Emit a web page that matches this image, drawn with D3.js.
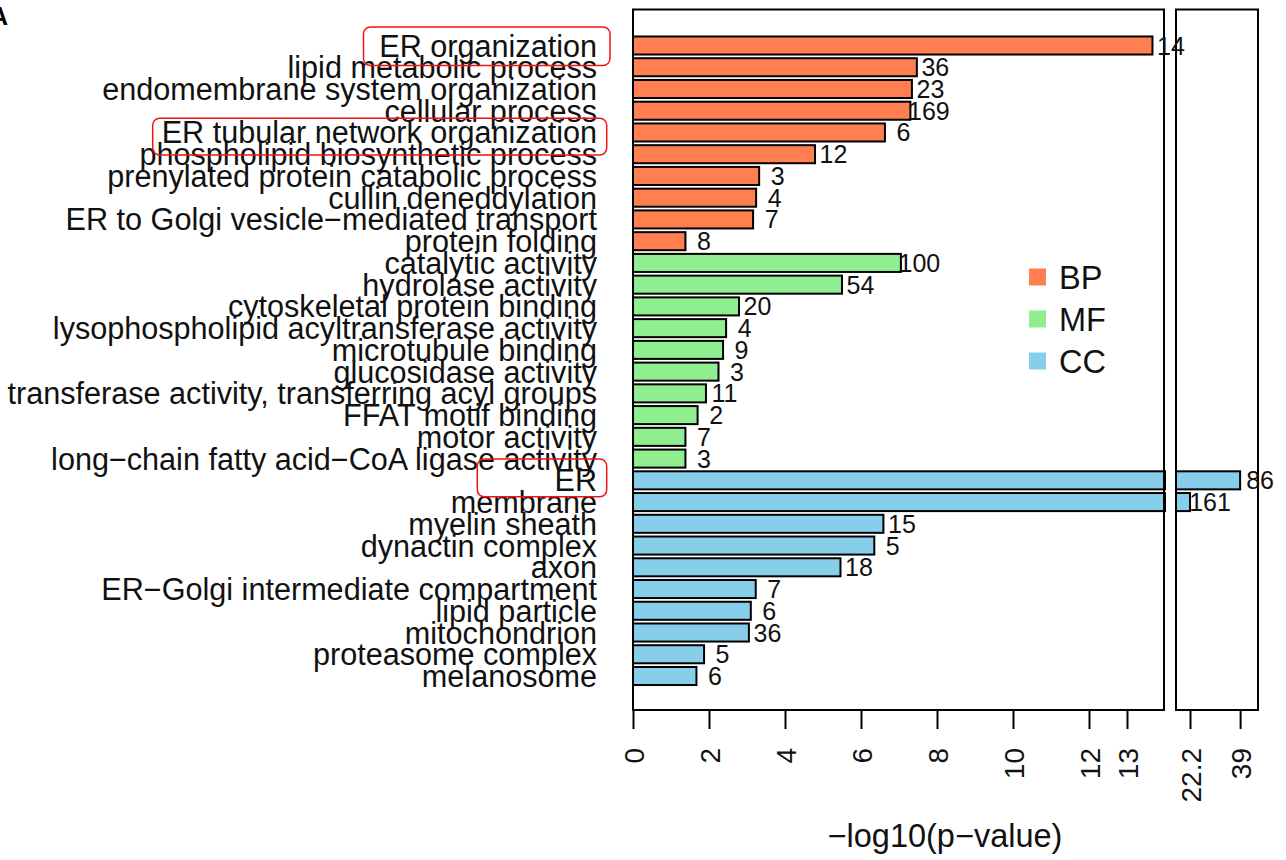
<!DOCTYPE html>
<html>
<head>
<meta charset="utf-8">
<script src="https://cdn.jsdelivr.net/npm/d3@7"></script>
<style>
  html, body { margin: 0; padding: 0; background: #ffffff; }
  svg { display: block; font-family: "Liberation Sans", Arial, sans-serif; }
</style>
</head>
<body>
<svg id="chart" width="1286" height="860"></svg>
<script>
// ---------------- data ----------------
const terms = [
  "ER organization",
  "lipid metabolic process",
  "endomembrane system organization",
  "cellular process",
  "ER tubular network organization",
  "phospholipid biosynthetic process",
  "prenylated protein catabolic process",
  "cullin deneddylation",
  "ER to Golgi vesicle\u2212mediated transport",
  "protein folding",
  "catalytic activity",
  "hydrolase activity",
  "cytoskeletal protein binding",
  "lysophospholipid acyltransferase activity",
  "microtubule binding",
  "glucosidase activity",
  "transferase activity, transferring acyl groups",
  "FFAT motif binding",
  "motor activity",
  "long\u2212chain fatty acid\u2212CoA ligase activity",
  "ER",
  "membrane",
  "myelin sheath",
  "dynactin complex",
  "axon",
  "ER\u2212Golgi intermediate compartment",
  "lipid particle",
  "mitochondrion",
  "proteasome complex",
  "melanosome"
];
const groups = [
  "BP","BP","BP","BP","BP","BP","BP","BP","BP","BP",
  "MF","MF","MF","MF","MF","MF","MF","MF","MF","MF",
  "CC","CC","CC","CC","CC","CC","CC","CC","CC","CC"
];
const negLog10P = [
  13.67, 7.47, 7.34, 7.30, 6.63, 4.79, 3.32, 3.24, 3.16, 1.38,
  7.05, 5.50, 2.79, 2.45, 2.37, 2.25, 1.92, 1.70, 1.38, 1.38,
  39.0, 22.2, 6.59, 6.35, 5.46, 3.23, 3.10, 3.05, 1.87, 1.67
];
const geneCounts = [
  14, 36, 23, 169, 6, 12, 3, 4, 7, 8,
  100, 54, 20, 4, 9, 3, 11, 2, 7, 3,
  86, 161, 15, 5, 18, 7, 6, 36, 5, 6
];
const leftTicks = [0, 2, 4, 6, 8, 10, 12, 13];
const rightTicks = [22.2, 39];
const legendLabels = ["BP", "MF", "CC"];
const legendColors = ["#FF7F50", "#90EE90", "#87CEEB"];
const highlightTerms = ["ER organization", "ER tubular network organization", "ER"];
const axisTitle = "\u2212log10(p\u2212value)";
const breakAt = 14;

// ---------------- layout ----------------
const svg = d3.select("#chart");
const font = '"Liberation Sans", Arial, sans-serif';

const plotTop = 9.5, plotBottom = 710;
const xLeft = d3.scaleLinear().domain([0, breakAt]).range([633, 1165]);
const xRight = d3.scaleLinear().domain([17.5, 45]).range([1176, 1258]);
const color = d3.scaleOrdinal().domain(legendLabels).range(legendColors);

const rows = terms.map((t, i) => ({ term: t, group: groups[i], v: negLog10P[i], n: geneCounts[i] }));

const y = d3.scaleBand()
  .domain(terms)
  .range([34.63, 686.87])
  .paddingInner(0.17)
  .paddingOuter(0.085);
const yc = t => y(t) + y.bandwidth() / 2;

// panel label "A" (cut at the left edge, as in the source figure)
svg.append("text")
  .attr("x", -1).attr("y", 25)
  .attr("text-anchor", "middle")
  .style("font-size", "25px").style("font-weight", "bold")
  .text("A");

// bars - left panel
svg.append("g").selectAll("rect")
  .data(rows)
  .join("rect")
  .attr("x", xLeft(0))
  .attr("y", d => y(d.term))
  .attr("width", d => xLeft(Math.min(d.v, breakAt)) - xLeft(0))
  .attr("height", y.bandwidth())
  .attr("fill", d => color(d.group))
  .attr("stroke", "#000")
  .attr("stroke-width", 2);

// bars - right panel (values beyond the break)
const bigRows = rows.filter(d => d.v > breakAt);
svg.append("g").selectAll("rect")
  .data(bigRows)
  .join("rect")
  .attr("x", xRight.range()[0])
  .attr("y", d => y(d.term))
  .attr("width", d => xRight(d.v) - xRight.range()[0])
  .attr("height", y.bandwidth())
  .attr("fill", d => color(d.group))
  .attr("stroke", "#000")
  .attr("stroke-width", 2);

// panel boxes
svg.append("rect")
  .attr("x", xLeft(0)).attr("y", plotTop)
  .attr("width", xLeft(breakAt) - xLeft(0) - 1).attr("height", plotBottom - plotTop)
  .attr("fill", "none").attr("stroke", "#000").attr("stroke-width", 2);
svg.append("rect")
  .attr("x", xRight.range()[0]).attr("y", plotTop)
  .attr("width", xRight.range()[1] - xRight.range()[0]).attr("height", plotBottom - plotTop)
  .attr("fill", "none").attr("stroke", "#000").attr("stroke-width", 2);

// value labels
svg.append("g").selectAll("text")
  .data(rows)
  .join("text")
  .attr("x", d => (d.v > breakAt ? xRight(d.v) + 20 : xLeft(d.v) + 18.5))
  .attr("y", d => yc(d.term))
  .attr("dy", "0.36em")
  .attr("text-anchor", "middle")
  .style("font-size", "25px")
  .attr("fill", "#111")
  .text(d => d.n);

// category labels
svg.append("g").selectAll("text")
  .data(rows)
  .join("text")
  .attr("x", 597)
  .attr("y", d => yc(d.term))
  .attr("dy", "0.36em")
  .attr("text-anchor", "end")
  .style("font-size", "30.6px")
  .attr("fill", "#111")
  .text(d => d.term);

// highlight boxes (hand-drawn annotation boxes)
const hlGeom = {
  "ER organization": { x0: 363.5, x1: 610, t: -18.5, b: 20.1 },
  "ER tubular network organization": { x0: 152.7, x1: 606.7, t: -14.2, b: 22.5 },
  "ER": { x0: 477.3, x1: 606.7, t: -21.3, b: 16.4 }
};
svg.append("g").selectAll("rect")
  .data(highlightTerms)
  .join("rect")
  .attr("x", d => hlGeom[d].x0)
  .attr("y", d => yc(d) + hlGeom[d].t)
  .attr("width", d => hlGeom[d].x1 - hlGeom[d].x0)
  .attr("height", d => hlGeom[d].b - hlGeom[d].t)
  .attr("rx", 7).attr("ry", 7)
  .attr("fill", "none")
  .attr("stroke", "#F01414")
  .attr("stroke-width", 1.5);

// axes
function styleAxis(g) {
  g.select(".domain").remove();
  g.selectAll(".tick line").attr("stroke", "#000").attr("stroke-width", 2);
  g.selectAll(".tick text")
    .attr("transform", "rotate(-90)")
    .attr("x", -38)
    .attr("y", 0)
    .attr("dy", "0.36em")
    .attr("text-anchor", "end")
    .attr("fill", "#111")
    .style("font-size", "28px")
    .style("font-family", font);
}
svg.append("g")
  .attr("transform", `translate(0,${plotBottom})`)
  .call(d3.axisBottom(xLeft).tickValues(leftTicks).tickSize(19).tickFormat(d => String(d)))
  .call(styleAxis);
svg.append("g")
  .attr("transform", `translate(0,${plotBottom})`)
  .call(d3.axisBottom(xRight).tickValues(rightTicks).tickSize(19).tickFormat(d => String(d)))
  .call(styleAxis);

// axis title
svg.append("text")
  .attr("x", 945).attr("y", 847)
  .attr("text-anchor", "middle")
  .style("font-size", "32.5px")
  .attr("fill", "#111")
  .text(axisTitle);

// legend
const legend = svg.append("g");
legendLabels.forEach((lab, i) => {
  const cy = 277 + i * 42;
  legend.append("rect")
    .attr("x", 1029).attr("y", cy - 8.5)
    .attr("width", 17).attr("height", 17)
    .attr("fill", color(lab));
  legend.append("text")
    .attr("x", 1059).attr("y", cy)
    .attr("dy", "0.36em")
    .style("font-size", "32.5px")
    .attr("fill", "#111")
    .text(lab);
});
</script>
</body>
</html>
